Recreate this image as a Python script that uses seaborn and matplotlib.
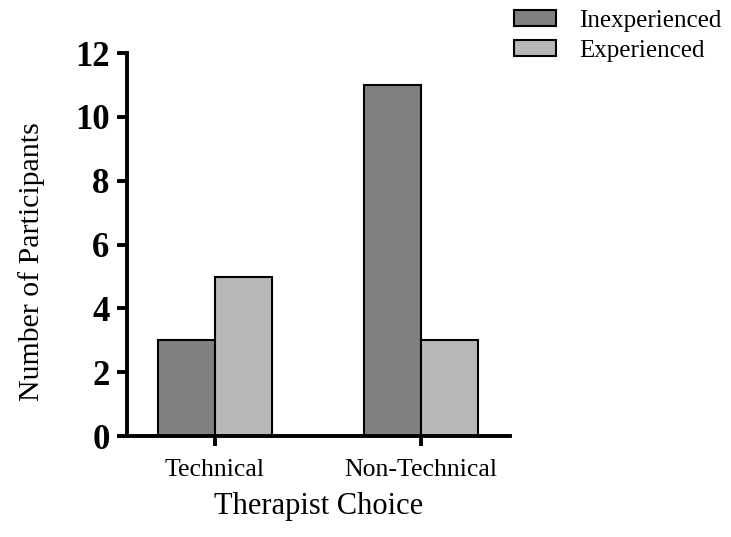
import matplotlib
matplotlib.use("Agg")
import matplotlib.pyplot as plt
import seaborn as sns
import pandas as pd

categories = ["Technical", "Non-Technical"]
groups = ["Inexperienced", "Experienced"]
inexperienced = [3, 11]
experienced = [5, 3]
colors = ["#808080", "#b8b7ba"]

rows = []
for c, v1, v2 in zip(categories, inexperienced, experienced):
    rows.append({"choice": c, "group": groups[0], "n": v1})
    rows.append({"choice": c, "group": groups[1], "n": v2})
df = pd.DataFrame(rows)

sns.set_style("ticks", {"axes.edgecolor": "black", "text.color": "black",
                        "xtick.color": "black", "ytick.color": "black",
                        "axes.labelcolor": "black"})
plt.rcParams["font.family"] = ["Liberation Serif", "DejaVu Serif"]

fig = plt.figure(figsize=(7.31, 5.37), dpi=100)
ax = fig.add_axes([0.1737, 0.188, 0.524, 0.713])
sns.barplot(data=df, x="choice", y="n", hue="group", order=categories,
            hue_order=groups, palette=colors, width=0.555, ax=ax,
            edgecolor="black", linewidth=1.5, saturation=1, errorbar=None)

ax.set_xlim(-0.427, 1.432)
ax.set_ylim(0, 12)
ax.set_yticks(range(0, 13, 2))
ax.spines["top"].set_visible(False)
ax.spines["right"].set_visible(False)
for s in ["left", "bottom"]:
    ax.spines[s].set_linewidth(2.8)
ax.tick_params(axis="both", width=2.8, length=7.5, color="black")
ax.tick_params(axis="y", labelsize=25, pad=5)
ax.tick_params(axis="x", labelsize=18.5, pad=9)
for lbl in ax.get_yticklabels():
    lbl.set_fontweight("bold")
ax.set_xlabel("Therapist Choice", fontsize=22)
ax.set_ylabel("Number of Participants", fontsize=21.5)
ax.yaxis.set_label_coords(-0.214, 0.455)
ax.xaxis.set_label_coords(0.5, -0.145)
ax.xaxis.label.set_va("top")

ax.legend(loc="upper left", bbox_to_anchor=(0.689, 1.0), bbox_transform=fig.transFigure,
          frameon=False, fontsize=18, handlelength=1.68, handleheight=0.6,
          handletextpad=0.95, labelspacing=0.3, borderaxespad=0)

fig.savefig("out.png", dpi=100)
